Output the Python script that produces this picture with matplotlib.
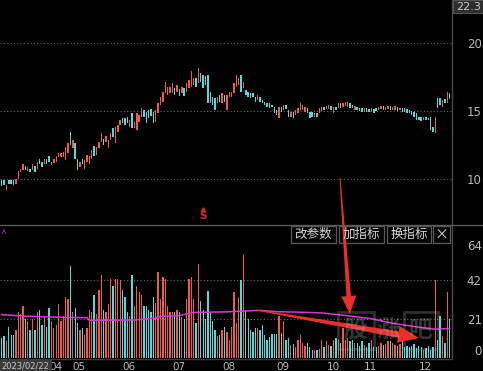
import matplotlib
matplotlib.use('Agg')
import matplotlib.pyplot as plt
from matplotlib.patches import Polygon, Rectangle
import numpy as np

plt.rcParams['font.family'] = ['DejaVu Sans', 'Noto Sans CJK SC']

# ---------------- data ----------------
opens = [9.90, 9.90, 9.21, 9.95, 9.90, 9.95, 9.66, 10.02, 10.52, 10.64,
         10.94, 10.59, 10.76, 10.69, 10.94, 10.76, 11.43, 11.26, 11.08, 11.50,
         11.67, 11.01, 11.18, 11.26, 11.63, 11.58, 11.63, 11.38, 11.87, 13.47,
         12.24, 12.61, 11.50, 10.89, 11.43, 10.76, 11.26, 11.13, 11.50, 12.41,
         11.75, 12.24, 12.73, 12.91, 12.73, 12.24, 12.86, 13.72, 12.66, 13.47,
         13.97, 14.46, 14.46, 14.58, 13.84, 14.88, 13.72, 13.60, 14.21, 14.58,
         15.07, 14.95, 15.07, 15.12, 14.95, 14.21, 14.83, 15.44, 15.69, 16.31,
         16.18, 16.31, 16.31, 16.67, 16.43, 16.60, 16.31, 16.67, 16.43, 16.67,
         16.80, 16.92, 17.41, 17.04, 17.78, 17.66, 17.54, 17.66, 16.43, 16.06,
         15.94, 15.57, 16.18, 15.57, 16.18, 15.07, 16.06, 16.06, 16.31, 16.80,
         16.92, 17.66, 16.67, 16.55, 16.43, 16.35, 16.31, 16.06, 15.81, 16.01,
         15.81, 15.69, 15.62, 15.57, 15.44, 15.32, 15.07, 14.46, 15.32, 15.07,
         15.44, 15.07, 14.58, 14.95, 14.70, 14.83, 15.07, 15.07, 14.95, 15.20,
         14.95, 14.95, 14.58, 14.83, 14.83, 15.00, 15.32, 15.15, 15.15, 15.39,
         14.83, 15.32, 15.20, 15.57, 15.32, 15.39, 15.32, 15.57, 15.44, 15.07,
         15.32, 15.25, 15.20, 14.95, 15.20, 15.15, 14.95, 15.15, 15.25, 15.07,
         15.15, 15.39, 15.07, 15.15, 15.39, 15.07, 15.07, 15.32, 15.07, 15.25,
         15.20, 15.15, 15.07, 15.00, 14.95, 14.83, 14.58, 14.58, 14.33, 14.58,
         14.51, 14.58, 13.84, 13.35, 15.94, 15.94, 15.32, 15.90, 15.57, 16.30]

closes = [9.48, 9.53, 9.53, 9.66, 9.61, 9.53, 10.02, 10.59, 10.76, 11.13,
          10.64, 10.84, 10.52, 11.08, 10.52, 11.26, 11.08, 10.89, 11.43, 11.13,
          11.26, 11.26, 11.50, 11.67, 11.92, 11.87, 11.99, 12.36, 12.61, 12.49,
          12.86, 11.50, 10.64, 11.26, 11.08, 11.38, 11.75, 11.67, 12.12, 11.67,
          12.36, 12.73, 13.40, 12.49, 13.15, 12.86, 13.40, 13.10, 13.84, 13.97,
          14.33, 14.09, 13.97, 14.09, 14.33, 13.72, 14.21, 14.83, 14.70, 15.20,
          14.58, 14.09, 14.46, 14.63, 14.09, 15.07, 15.57, 16.06, 16.43, 17.17,
          16.80, 16.80, 17.04, 16.18, 16.92, 16.11, 16.80, 16.11, 17.04, 17.29,
          17.91, 17.41, 16.80, 18.15, 17.17, 16.67, 16.92, 15.57, 15.57, 15.44,
          15.07, 16.06, 15.69, 16.31, 15.69, 16.18, 16.43, 16.43, 17.04, 17.66,
          17.41, 16.43, 17.17, 16.18, 16.06, 15.94, 16.01, 15.69, 16.18, 15.69,
          15.57, 15.44, 15.32, 15.20, 15.32, 14.83, 14.70, 15.32, 14.95, 15.44,
          15.15, 14.58, 14.95, 14.46, 15.07, 15.20, 15.57, 15.44, 15.32, 14.83,
          14.46, 14.58, 14.83, 14.58, 15.20, 15.32, 15.07, 15.39, 15.44, 15.07,
          15.32, 15.07, 15.57, 15.20, 15.57, 15.69, 15.69, 15.20, 15.20, 15.39,
          15.07, 15.00, 14.95, 15.20, 14.95, 14.90, 15.20, 14.83, 15.00, 15.32,
          15.39, 15.07, 15.32, 15.39, 15.07, 15.32, 15.39, 15.00, 15.25, 14.95,
          14.95, 14.83, 14.83, 14.70, 14.58, 14.33, 14.33, 14.26, 14.58, 14.33,
          14.33, 13.60, 13.47, 14.58, 15.20, 15.44, 15.81, 15.60, 16.43, 15.90]

volumes = [11, 12, 9, 17, 12.5, 12.5, 15, 25, 24, 28,
           21, 20, 15, 21, 15, 25, 26, 18, 22, 17,
           27, 20, 16, 18, 29, 20, 23, 33, 32, 50,
           25, 27, 19, 15, 16, 12.5, 16, 26, 25, 34,
           24, 37, 45, 26, 25, 29, 43, 39, 43, 43,
           42, 37, 33, 25, 23, 45, 28, 39, 36, 34,
           28, 28, 26, 25, 33, 30,
           46.5, 32, 44, 43, 28, 25, 25, 25, 26, 25,
           22, 21, 32, 43, 44, 32, 19, 51, 31, 26,
           21, 36.5, 25, 20, 15, 12, 12.5, 15, 17, 14,
           10, 17, 36, 19, 33, 42, 56, 26, 21, 15,
           14, 16, 16, 15, 18, 12.5, 10, 11.6, 13, 13,
           13, 22.5, 13.5, 20, 10, 11, 7, 7.6, 6, 10,
           12.5, 8, 6.5, 8, 6, 4.4, 4.4, 4.4,
           5,
           10, 6, 9, 7, 6.5, 10, 11, 10, 8, 16,
           10, 11, 9, 10, 8, 8, 6.5, 9, 7, 6,
           8, 10, 6, 6, 6.5, 8, 7, 7.6, 9, 9,
           8, 7, 6.5, 7.6, 9, 6, 6.5, 6, 6.5, 7.6,
           5.3, 6.5, 6, 4.4, 5.3, 6.5, 4.4,
           6, 42, 10, 23, 12, 8, 36, 21]

ma_idx = [0, 8, 20, 36, 37, 56, 65, 67, 75, 81, 95, 109, 116, 129, 135,
          146, 156, 163, 170, 177, 183, 189]
ma_val = [23.5, 22.8, 22.2, 21.8, 20.4, 20.6, 21.6, 22.5, 23.0, 24.7, 25.0,
          25.8, 25.1, 24.7, 24.4, 22.9, 21.3, 19.3, 17.8, 16.5, 15.6, 16.0]

month_labels = ['04', '05', '06', '07', '08', '09', '10', '11', '12']
month_pos = [20, 30, 51, 72, 93, 116, 137, 153, 176]
price_ticks = [20, 15, 10]
vol_ticks = [64, 42, 21, 0]
vol_grid = [42, 21]
last_label = '22.3'
start_date = '2023/02/22'
signal_idx = 85
signal_price = 7.3
buttons = ['改参数', '加指标', '换指标', '×']

# ---------------- style ----------------
W, H = 483, 371
BG = '#000000'
RED = '#ee5a52'
CYAN = '#54d8dc'
GRID = '#6a6a6a'
TXT = '#b8b8b8'
LINE = '#4a4a4a'

fig = plt.figure(figsize=(W / 100, H / 100), dpi=100, facecolor=BG)


def fr(x0, y0, x1, y1):
    return [x0 / W, 1 - y1 / H, (x1 - x0) / W, (y1 - y0) / H]


ax = fig.add_axes(fr(0, 0, 452, 224))
axv = fig.add_axes(fr(0, 226, 452, 358))

idx = np.arange(len(opens))
o = np.array(opens)
c = np.array(closes)
up = c >= o
cols = np.where(up, RED, CYAN)
body = np.maximum(np.abs(c - o), 0.08)

for a in (ax, axv):
    a.set_facecolor(BG)
    a.set_xlim(-0.72, 190.0)
    for s in ('left', 'top', 'bottom'):
        a.spines[s].set_visible(False)
    a.spines['right'].set_color(LINE)
    a.spines['right'].set_linewidth(1.0)

ax.bar(idx, body, bottom=np.minimum(o, c), width=0.6, color=cols, linewidth=0)
ax.set_ylim(6.68, 23.17)
ax.set_xticks([])
ax.set_yticks(price_ticks)
ax.set_yticklabels([str(t) for t in price_ticks])
ax.tick_params(axis='y', left=False, right=True, labelleft=False, labelright=True,
               length=0, pad=21.5, labelcolor=TXT, labelsize=8.5)
for t in ax.get_yticklabels():
    t.set_ha('right')
ax.grid(axis='y', color=GRID, linestyle=(0, (1, 2)), linewidth=0.8)
ax.set_axisbelow(True)

ax.text(signal_idx, signal_price, 'S', color='#e8232a', fontsize=7.5,
        fontweight='bold', ha='center', va='center')
ax.plot([signal_idx], [signal_price + 0.45], marker='^', ms=2.5, color='#e8232a',
        linestyle='none')

axv.bar(idx, volumes, width=0.55, color=cols, linewidth=0)
axv.plot(ma_idx, ma_val, color='#d23cd2', lw=1.1)
axv.set_ylim(0, 71.5)
for g in vol_grid:
    axv.axhline(g, color=GRID, linestyle=(0, (1, 2)), linewidth=0.8, zorder=0)
axv.set_yticks(vol_ticks)
axv.set_yticklabels([str(t) for t in vol_ticks])
axv.tick_params(axis='y', left=False, right=True, labelleft=False, labelright=True,
                length=0, pad=21.5, labelcolor=TXT, labelsize=8.5)
for t, v in zip(axv.get_yticklabels(), vol_ticks):
    t.set_ha('right')
    if v == max(vol_ticks):
        t.set_va('top')
    elif v == 0:
        t.set_va('bottom')
axv.set_xticks(month_pos)
axv.set_xticklabels(month_labels)
axv.tick_params(axis='x', length=0, pad=3, labelcolor=TXT, labelsize=7.5)
for t in axv.get_xticklabels():
    t.set_ha('left')

# ---------------- overlay (UI chrome, arrows) ----------------
ov = fig.add_axes([0, 0, 1, 1])
ov.set_xlim(0, W)
ov.set_ylim(H, 0)
ov.axis('off')
ov.patch.set_alpha(0)

ov.plot([0, W], [224.5, 224.5], color='#5a5a5a', lw=1)
ov.plot([0, 452], [358.5, 358.5], color='#3a3a3a', lw=1)

# last price box
ov.add_patch(Rectangle((453, 0), 31, 13, facecolor='#2e2e2e', edgecolor='#555555', lw=0.8))
ov.text(481, 6.5, last_label, color='#c8c8c8', fontsize=8, ha='right', va='center')

# date box
ov.add_patch(Rectangle((-2, 360), 54, 12, facecolor='#3a3a3a', edgecolor='none'))
ov.text(1, 366, start_date, color='#c8c8c8', fontsize=6, ha='left', va='center')

# indicator marker
ov.text(0.5, 232, '∧', color='#c030c0', fontsize=6, ha='left', va='center')

# toolbar buttons
bx = [(291, 336), (339, 384), (387, 431), (433, 450)]
for (x0, x1), lab in zip(bx, buttons):
    ov.add_patch(Rectangle((x0, 226), x1 - x0, 17, facecolor='#050505',
                           edgecolor='#5a5a5a', lw=0.9))
    ov.text((x0 + x1) / 2, 234.5, lab, color='#d4d4d4', fontsize=9 if lab != '×' else 10,
            ha='center', va='center', family=['Noto Sans CJK SC', 'DejaVu Sans'])

# watermark
for ch, xc in zip(['股', '涨', '吧'], [355, 388, 420]):
    ov.text(xc, 330, ch, color='#bbbbbb', alpha=0.28, fontsize=17, fontweight='bold',
            ha='center', va='center', family=['Noto Sans CJK SC'])
ov.add_patch(Rectangle((338, 312), 36, 37, facecolor='none', edgecolor='#bbbbbb',
                       alpha=0.25, lw=2))
ov.add_patch(Rectangle((404, 312), 34, 37, facecolor='none', edgecolor='#bbbbbb',
                       alpha=0.25, lw=2))


def arrow(tail, tip, w0, w1, hw, hl, color='#e8302a'):
    t = np.array(tail, float)
    p = np.array(tip, float)
    d = p - t
    L = np.hypot(*d)
    u = d / L
    n = np.array([-u[1], u[0]])
    neck = p - u * hl
    pts = [t + n * w0 / 2, neck + n * w1 / 2, neck + n * hw / 2, p,
           neck - n * hw / 2, neck - n * w1 / 2, t - n * w0 / 2]
    ov.add_patch(Polygon(pts, closed=True, facecolor=color, edgecolor='none'))


arrow((340, 178), (350, 314), 1.0, 4.5, 15, 18)
arrow((256, 310), (419, 338), 1.0, 6.5, 17, 21)

fig.savefig('out.png', dpi=100, facecolor=BG)
